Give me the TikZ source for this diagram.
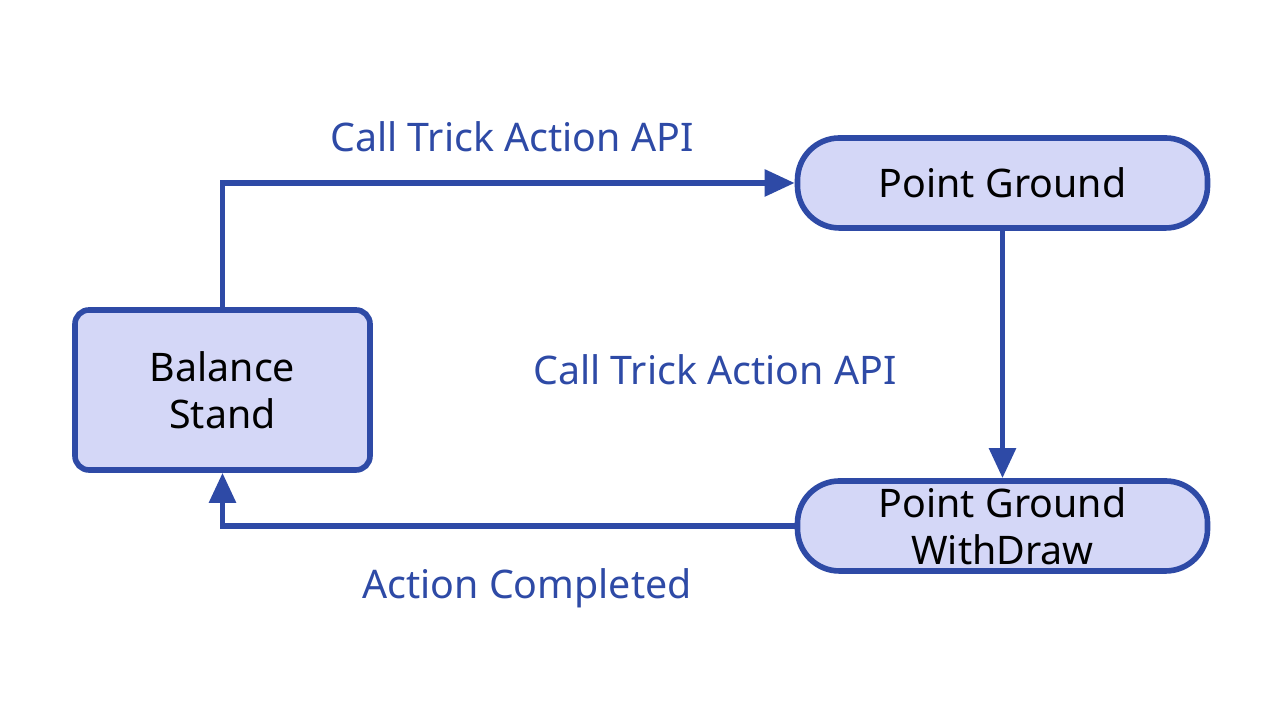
\documentclass[tikz,border=0pt]{standalone}
\usepackage{fontspec}
\setmainfont{Noto Sans}
\usetikzlibrary{arrows.meta,shapes.misc}
\definecolor{edgeblue}{HTML}{2E4AA6}
\definecolor{boxfill}{HTML}{D4D7F7}
\tikzset{
  box/.style={draw=edgeblue, fill=boxfill, line width=1.6pt, rounded corners=4pt,
    minimum width=2.95cm, minimum height=1.6cm, align=center, inner sep=1pt,
    font=\fontsize{11.2}{13.4}\selectfont},
  pill/.style={draw=edgeblue, fill=boxfill, line width=1.6pt, rounded corners=0.42cm,
    minimum width=4.1cm, minimum height=0.9cm, align=center, inner sep=1pt,
    font=\fontsize{11.2}{13.4}\selectfont},
  flow/.style={draw=edgeblue, line width=1.6pt, -{Triangle[length=0.3cm,width=0.26cm]}},
  lbl/.style={text=edgeblue, font=\fontsize{11.2}{13}\selectfont}
}
\begin{document}
\begin{tikzpicture}
  \useasboundingbox (0,0) rectangle (12.82,7.2);
  \node[box] (balance) at (2.225,3.3) {Balance\\Stand};
  \node[pill] (ground) at (10.025,5.37) {Point Ground};
  \node[pill] (withdraw) at (10.025,1.94) {Point Ground\\WithDraw};

  \draw[flow] (balance.north) |- (ground.west);
  \draw[flow] (ground.south) -- (withdraw.north);
  \draw[flow] (withdraw.west) -| (balance.south);

  \node[lbl] (lblcall) at (5.12,5.83) {Call Trick Action API};
  \node[lbl] (lblcalltwo) at (7.15,3.5) {Call Trick Action API};
  \node[lbl] (lbldone) at (5.27,1.32) {Action Completed};
\end{tikzpicture}
\end{document}
